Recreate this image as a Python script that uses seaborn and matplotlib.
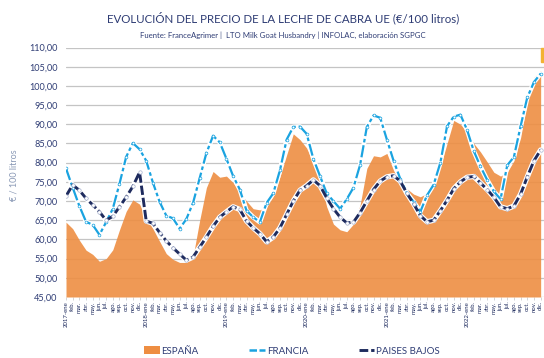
import numpy as np
import pandas as pd
import matplotlib
matplotlib.use("Agg")
import matplotlib.pyplot as plt
import seaborn as sns
from matplotlib.lines import Line2D
from matplotlib.patches import Patch, Rectangle

# Monthly goat milk prices, €/100 litres, Jan 2017 - Dec 2022
years = [2017, 2018, 2019, 2020, 2021, 2022]
month_abbr = ["ene", "feb.", "mar.", "abr.", "may.", "jun.", "jul.", "ago.",
              "sep.", "oct.", "nov.", "dic."]

espana = [
    64.5, 62.8, 59.8, 57.2, 56.1, 54.3, 55.0, 57.3, 62.5, 67.3, 70.3, 69.2,
    65.5, 62.8, 59.5, 56.3, 54.8, 54.0, 54.0, 55.5, 65.0, 73.5, 77.7, 76.2,
    76.5, 74.8, 72.3, 70.0, 68.0, 67.7, 68.4, 71.3, 76.3, 82.0, 87.5, 86.0,
    83.8, 79.8, 75.5, 68.5, 64.0, 62.5, 62.0, 64.0, 69.0, 78.5, 81.8, 81.5,
    82.4, 78.0, 74.5, 73.2, 71.8, 71.1, 72.0, 74.2, 79.0, 85.0, 91.0, 90.0,
    88.0, 85.0, 82.8, 80.2, 77.5, 76.5, 77.5, 80.5, 86.5, 96.0, 102.2, 104.0,
]
francia = [
    78.5, 73.5, 68.7, 64.6, 63.8, 61.2, 64.5, 68.0, 74.5, 81.5, 85.1, 83.5,
    80.5, 74.8, 69.8, 66.2, 65.5, 62.8, 65.3, 69.5, 76.0, 82.5, 87.0, 85.3,
    81.0, 76.5, 73.0, 67.5, 65.8, 64.5, 69.5, 72.0, 78.0, 86.0, 89.3, 89.4,
    87.5, 81.0, 76.5, 72.0, 70.0, 68.0, 70.5, 73.5, 79.5, 89.3, 92.3, 91.7,
    86.0, 80.5, 75.8, 72.0, 69.8, 67.2, 71.5, 74.3, 80.0, 89.5, 92.0, 92.5,
    88.5, 83.0, 79.0, 75.5, 72.5, 70.5, 79.3, 81.5, 89.5, 97.0, 101.0, 103.2,
]
paises_bajos = [
    71.3, 74.2, 72.8, 70.7, 69.0, 67.2, 65.0, 66.0, 68.5, 71.0, 73.8, 77.5,
    64.8, 64.2, 61.8, 59.6, 57.8, 56.2, 54.6, 55.4, 58.0, 60.6, 63.4, 65.8,
    67.2, 68.5, 67.8, 64.8, 63.0, 61.5, 59.4, 60.6, 63.0, 66.5, 70.0, 72.8,
    74.0, 75.5, 74.0, 70.8, 68.0, 65.8, 64.3, 64.5, 67.0, 70.0, 73.0, 75.2,
    76.3, 76.6, 75.2, 72.0, 69.3, 66.2, 64.6, 65.0, 67.5, 70.2, 73.2, 75.0,
    76.2, 76.4, 74.7, 73.0, 71.0, 68.5, 68.0, 68.7, 71.8, 76.3, 80.5, 83.3,
]

tick_labels = [f"{y}-{m}" if m == "ene" else m for y in years for m in month_abbr]
y_ticks = list(range(45, 111, 5))

NAVY = "#1E2B5E"
BLUE = "#1AA3E0"
ORANGE = "#EE8E42"
TEXT = "#2E3C74"

sns.set_theme(style="white")
plt.rcParams["font.family"] = ["Lato", "DejaVu Sans"]

df = pd.DataFrame({
    "mes": np.arange(len(espana)),
    "ESPAÑA": espana,
    "FRANCIA": francia,
    "PAISES BAJOS": paises_bajos,
})

fig = plt.figure(figsize=(5.44, 3.58), dpi=100)
ax = fig.add_axes([66 / 544, 1 - 297 / 358, 478 / 544, 249.5 / 358])

ax.set_axisbelow(True)
ax.yaxis.grid(True, color="#C4C4C4", lw=0.9)
ax.xaxis.grid(False)

# Spain as a filled area
ax.fill_between(df["mes"], 45, df["ESPAÑA"], color=ORANGE, alpha=0.9, lw=0, zorder=2)

# France: white halo under a dash-dot line with small round markers
sns.lineplot(data=df, x="mes", y="FRANCIA", ax=ax, color="white", lw=3.4, zorder=3)
sns.lineplot(data=df, x="mes", y="FRANCIA", ax=ax, color=BLUE, lw=1.6,
             linestyle=(0, (5.5, 1.3, 1.6, 1.3)), marker="o", markersize=2.0,
             markerfacecolor="white", markeredgecolor=BLUE, markeredgewidth=0.5,
             zorder=4)

# Netherlands: white halo under a dashed navy line with round markers
sns.lineplot(data=df, x="mes", y="PAISES BAJOS", ax=ax, color="white", lw=3.8, zorder=3)
sns.lineplot(data=df, x="mes", y="PAISES BAJOS", ax=ax, color=NAVY, lw=2.1,
             linestyle=(0, (3.2, 1.0)), marker="o", markersize=2.5,
             markerfacecolor="white", markeredgecolor="#A8B3D0", markeredgewidth=0.5,
             zorder=5)

ax.set_xlim(0, 71.5)
ax.set_ylim(45, 110)
ax.set_xlabel("")
ax.set_ylabel("")

ax.set_xticks(df["mes"])
ax.set_xticklabels(tick_labels, rotation=90, fontsize=4.3, color=NAVY)
ax.set_yticks(y_ticks)
ax.set_yticklabels([f"{v:.2f}".replace(".", ",") for v in y_ticks],
                   fontsize=6.6, color=TEXT)
ax.tick_params(axis="x", length=2, width=0.5, color="#C4C4C4", pad=1, bottom=True)
ax.tick_params(axis="y", length=0, pad=6)
for s in ax.spines.values():
    s.set_visible(False)

fig.text(14 / 544, 1 - 175 / 358, "€ / 100 litros", rotation=90, ha="center",
         va="center", fontsize=6.5, color="#8A99B6")

fig.text(283 / 544, 1 - 18 / 358,
         "EVOLUCIÓN DEL PRECIO DE LA LECHE DE CABRA UE (€/100 litros)",
         ha="center", va="center", fontsize=8.3, color=TEXT)
fig.text(283 / 544, 1 - 35 / 358,
         "Fuente: FranceAgrimer |  LTO Milk Goat Husbandry | INFOLAC, elaboración SGPGC",
         ha="center", va="center", fontsize=5.6, color=TEXT)

handles = [
    Patch(facecolor=ORANGE, edgecolor="none"),
    Line2D([], [], color=BLUE, lw=1.8, linestyle=(0, (3, 1))),
    Line2D([], [], color=NAVY, lw=2.1, linestyle=(0, (3, 1))),
]
fig.legend(handles, ["ESPAÑA", "FRANCIA", "PAISES BAJOS"], loc="center",
           bbox_to_anchor=(292 / 544, 1 - 351 / 358), ncol=3, frameon=False,
           fontsize=7, handlelength=1.6, handleheight=0.8, handletextpad=0.2,
           columnspacing=5.2, labelcolor=TEXT)

fig.patches.append(Rectangle((541 / 544, 1 - 62 / 358), 3 / 544, 14 / 358,
                             transform=fig.transFigure, color="#F3B233", zorder=10))

fig.savefig("out.png", dpi=100)
